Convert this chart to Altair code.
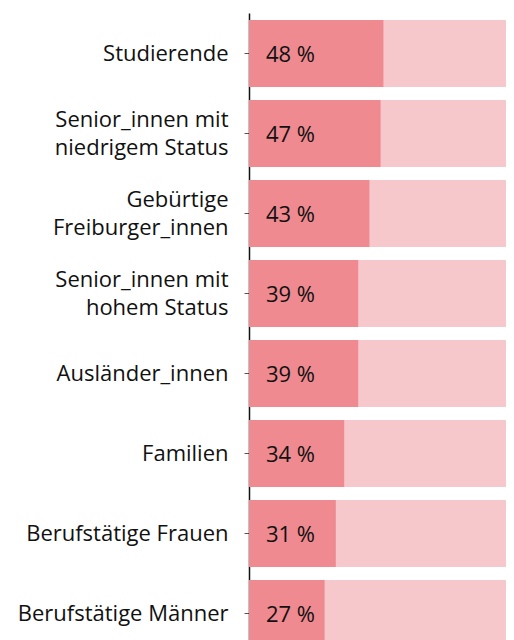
import altair as alt
import pandas as pd

categories = [
    "Studierende",
    "Senior_innen mit|niedrigem Status",
    "Gebürtige|Freiburger_innen",
    "Senior_innen mit|hohem Status",
    "Ausländer_innen",
    "Familien",
    "Berufstätige Frauen",
    "Berufstätige Männer",
]
values = [48, 47, 43, 39, 39, 34, 31, 27]
totals = [100] * len(categories)

df = pd.DataFrame({
    "group": categories,
    "value": values,
    "total": totals,
    "label": [f"{v} %" for v in values],
})

FONT = "Open Sans"
FS = 22

y = alt.Y(
    "group:N",
    sort=categories,
    title=None,
    scale=alt.Scale(paddingInner=0.1625, paddingOuter=0.0875),
    axis=alt.Axis(
        labelExpr="split(datum.label, '|')",
        labelFont=FONT,
        labelFontSize=FS,
        labelColor="#111111",
        labelLineHeight=28,
        labelPadding=16,
        labelLimit=300,
        labelOffset={"condition": {"test": "indexof(datum.value, '|') >= 0", "value": -14}, "value": 0},
        tickSize=5,
        tickColor="#555555",
        domainColor="#111111",
        domainWidth=1.5,
        ticks=True,
        minExtent=236,
        maxExtent=236,
    ),
)

xscale = alt.Scale(domain=[0, 100], range=[0, 280], nice=False)

bg = alt.Chart(df).mark_bar(color="#F6C8CB", clip=True).encode(
    y=y,
    x=alt.X("total:Q", scale=xscale, axis=None),
)

fg = alt.Chart(df).mark_bar(color="#EE8A90", clip=True).encode(
    y=y,
    x=alt.X("value:Q", scale=xscale, axis=None),
)

txt = alt.Chart(df).mark_text(
    align="left", baseline="middle", dx=17, dy=1, font=FONT, fontSize=FS, color="#111111"
).encode(
    y=y,
    x=alt.datum(0, scale=xscale),
    text="label:N",
)

chart = alt.layer(bg, fg, txt).properties(
    width=257, height=641,
    padding={"left": 5, "top": 5, "right": 0, "bottom": 5},
).configure_view(strokeWidth=0)

chart.save("out.html", embed_options={"renderer": "svg", "actions": False})
